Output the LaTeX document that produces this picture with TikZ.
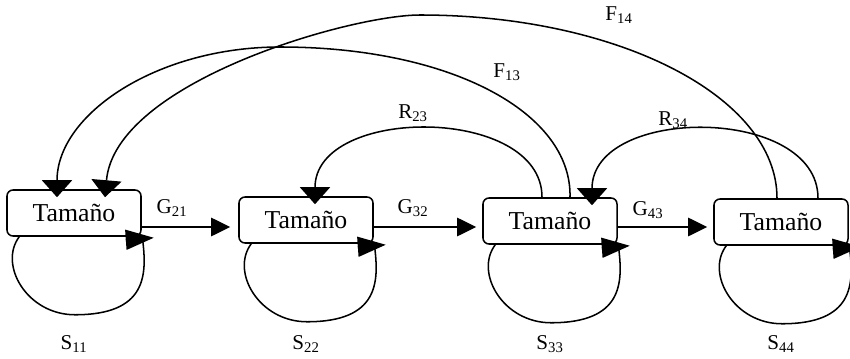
\documentclass[tikz,border=0pt]{standalone}
\usepackage{fontspec}
\setmainfont{Liberation Serif}
\usetikzlibrary{positioning,arrows.meta,calc}

\begin{document}
\begin{tikzpicture}[x=0.03cm, y=0.03cm, line width=1.3pt,
  box/.style={draw, fill=white, rounded corners=0.18cm, minimum width=4.02cm, minimum height=1.38cm, inner sep=0pt, font=\fontsize{22}{26}\selectfont},
  lbl/.style={inner sep=0pt, font=\fontsize{18}{21}\selectfont},
  fwd/.style={-{Triangle[length=0.57cm, width=0.55cm]}},
  feedback/.style={-{Triangle[length=0.51cm, width=0.9cm]}},
  selfloop/.style={-{Triangle[length=0.84cm, width=0.6cm]}}]
  \useasboundingbox[fill=white] (0,0) rectangle (850,358);
  \node[box] (b1) at (74,145) {Tamaño};
  \node[box] (b2) at (306,138) {Tamaño};
  \node[box] (b3) at (550,137) {Tamaño};
  \node[box] (b4) at (781,136) {Tamaño};
  % growth links
  \draw[fwd] ($(b1.east)+(0,-14)$) -- ($(b2.west)+(-8,-7)$);
  \draw[fwd] ($(b2.east)+(0,-7)$) -- ($(b3.west)+(-6,-6)$);
  \draw[fwd] ($(b3.east)+(0,-6)$) -- ($(b4.west)+(-6,-5)$);
  \node[lbl] (g21) at (172,150) {G\textsubscript{21}};
  \node[lbl] (g32) at (413,150) {G\textsubscript{32}};
  \node[lbl] (g43) at (648,148) {G\textsubscript{43}};
  % stay in class
  \foreach \i in {1,...,4} {
    \draw[selfloop] ($(b\i.south west)+(13,0)$) .. controls +(-21,-28) and +(-48,0) .. ($(b\i.south)+(1,-78)$)
      .. controls +(72,0) and +(4,-34) .. ($(b\i.south east)+(1,-4)$)
      ($(b\i.south east)+(-16,-3)$) -- ($(b\i.south east)+(12,-1)$);
    \node[lbl] (s\i\i) at (b\i.south |- 0,14) {S\textsubscript{\i\i}};
  }
  % regression and fecundity
  \coordinate (f14top) at (420,343);
  \coordinate (f13top) at (280,311);
  \draw[feedback] ($(b4.north)+(-4,0)$) .. controls +(0,102) and +(197,0) .. (f14top)
    .. controls +(-70,0) and +(10,115) .. ($(b1.north)+(31,-8)$);
  \draw[feedback] ($(b3.north)+(20,0)$) .. controls +(2,85) and +(170,0) .. (f13top)
    .. controls +(-123,0) and +(0,83) .. ($(b1.north)+(-17,-8)$);
  \draw[feedback] ($(b3.north)+(-8,0)$) .. controls +(0,92) and +(0,99) .. ($(b2.north)+(9,-8)$);
  \draw[feedback] ($(b4.north)+(37,0)$) .. controls +(0,93) and +(0,100) .. ($(b3.north)+(42,-8)$);
  \node[lbl] (f14) at (619,343) {F\textsubscript{14}};
  \node[lbl] (f13) at (507,286) {F\textsubscript{13}};
  \node[lbl] (r23) at (413,245) {R\textsubscript{23}};
  \node[lbl] (r34) at (673,238) {R\textsubscript{34}};
\end{tikzpicture}
\end{document}
